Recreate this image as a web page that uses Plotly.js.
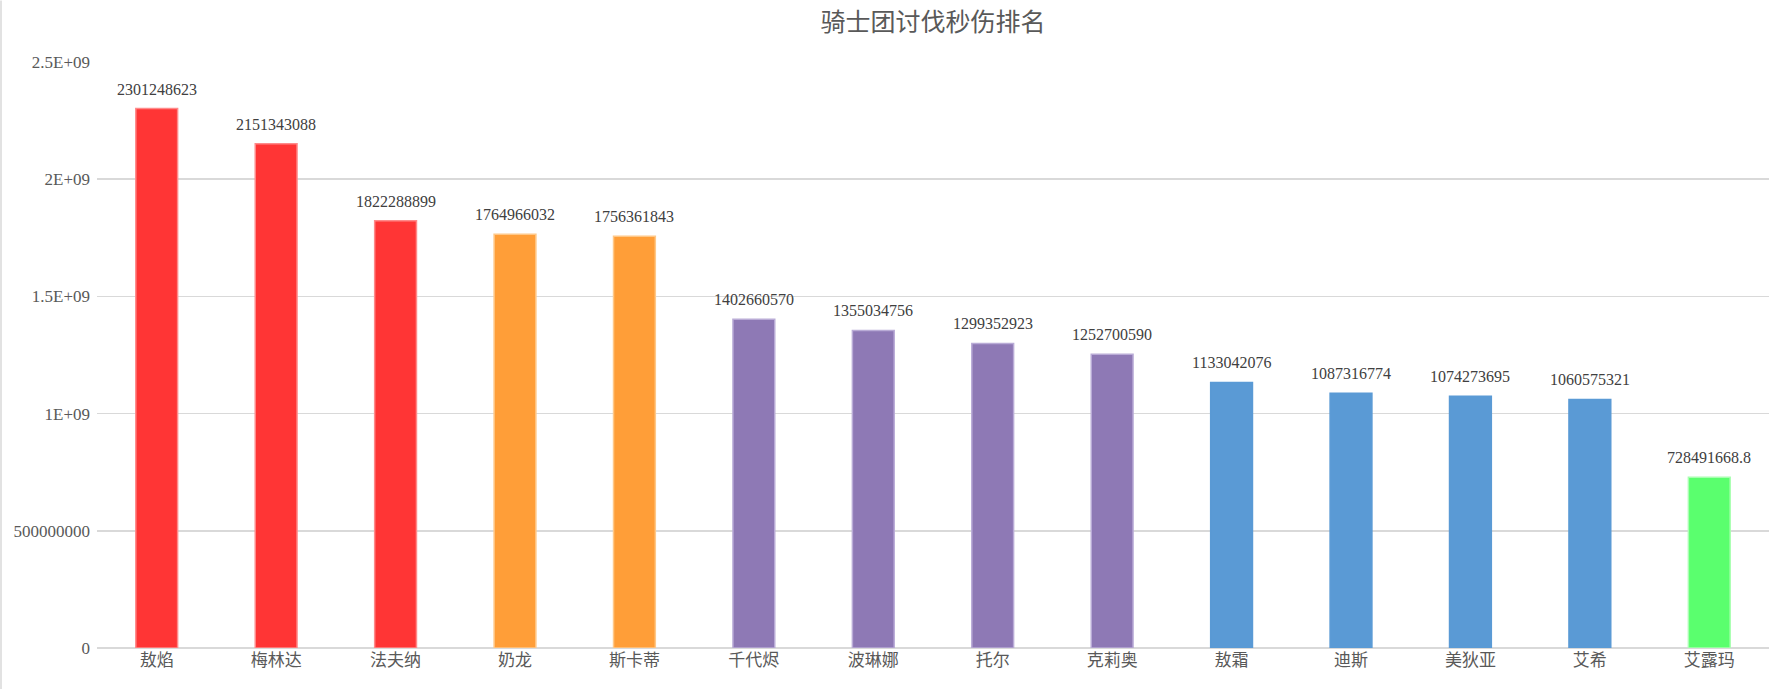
<!DOCTYPE html>
<html>
<head>
<meta charset="utf-8">
<script src="https://cdn.plot.ly/plotly-3.0.1.min.js"></script>
<style>html,body{margin:0;padding:0;background:#fff;}#chart{width:1788px;height:689px;}</style>
</head>
<body>
<div id="chart"></div>
<script>
const categories = ["敖焰","梅林达","法夫纳","奶龙","斯卡蒂","千代烬","波琳娜","托尔","克莉奥","敖霜","迪斯","美狄亚","艾希","艾露玛"];
const values = [2301248623, 2151343088, 1822288899, 1764966032, 1756361843, 1402660570, 1355034756, 1299352923, 1252700590, 1133042076, 1087316774, 1074273695, 1060575321, 728491668.8];
const barColors = ["#FF3535","#FF3535","#FF3535","#FF9E38","#FF9E38","#8E79B5","#8E79B5","#8E79B5","#8E79B5","#5A9AD5","#5A9AD5","#5A9AD5","#5A9AD5","#5AFF6E"];
const barEdgeColors = ["#FF8A8A","#FF8A8A","#FF8A8A","#FFC888","#FFC888","#B9ABD6","#B9ABD6","#B9ABD6","#B9ABD6","#5A9AD5","#5A9AD5","#5A9AD5","#5A9AD5","#A8FFB0"];
const yTickVals = [0, 500000000, 1000000000, 1500000000, 2000000000, 2500000000];
const yTickText = ["0","500000000","1E+09","1.5E+09","2E+09","2.5E+09"];
const titleText = "骑士团讨伐秒伤排名";

const trace = {
  type: "bar",
  x: categories,
  y: values,
  marker: {color: barColors, line: {width: 1.5, color: barEdgeColors}},
  hoverinfo: "x+y"
};

const labelAnnotations = categories.map((c, i) => ({
  x: c, y: values[i], xref: "x", yref: "y",
  text: String(values[i]),
  showarrow: false,
  xanchor: "center", yanchor: "bottom",
  yshift: 9,
  font: {family: "Liberation Serif, Times New Roman, serif", size: 16, color: "#404040"}
}));

const layout = {
  width: 1788, height: 689,
  margin: {l: 97, r: 19, t: 61.5, b: 41, pad: 0},
  paper_bgcolor: "#fff", plot_bgcolor: "#fff",
  bargap: 0.65,
  showlegend: false,
  title: {
    text: titleText,
    font: {family: "Noto Sans CJK SC, sans-serif", size: 25, color: "#595959"},
    x: 0.5, xanchor: "center", xref: "paper",
    y: 1 - 22/689, yanchor: "middle", yref: "container"
  },
  xaxis: {
    type: "category",
    tickfont: {family: "Noto Sans CJK SC, sans-serif", size: 17, color: "#595959"},
    showgrid: false, zeroline: false, showline: false, ticks: ""
  },
  yaxis: {
    range: [0, 2500000000],
    tickvals: yTickVals,
    ticktext: yTickText,
    tickfont: {family: "Liberation Serif, Times New Roman, serif", size: 17, color: "#595959"},
    showgrid: true, gridcolor: "#D9D9D9", gridwidth: 1.5,
    zeroline: true, zerolinecolor: "#D9D9D9", zerolinewidth: 1.5,
    showline: false, ticks: "", ticklabelstandoff: 6
  },
  annotations: labelAnnotations,
  shapes: [{
    type: "line", xref: "paper", yref: "paper",
    x0: -96/1672, x1: -96/1672, y0: -41/586.5, y1: 1 + 61.5/586.5,
    line: {color: "#D9D9D9", width: 1.5}
  }]
};

Plotly.newPlot("chart", [trace], layout, {displayModeBar: false, staticPlot: true});
</script>
</body>
</html>
